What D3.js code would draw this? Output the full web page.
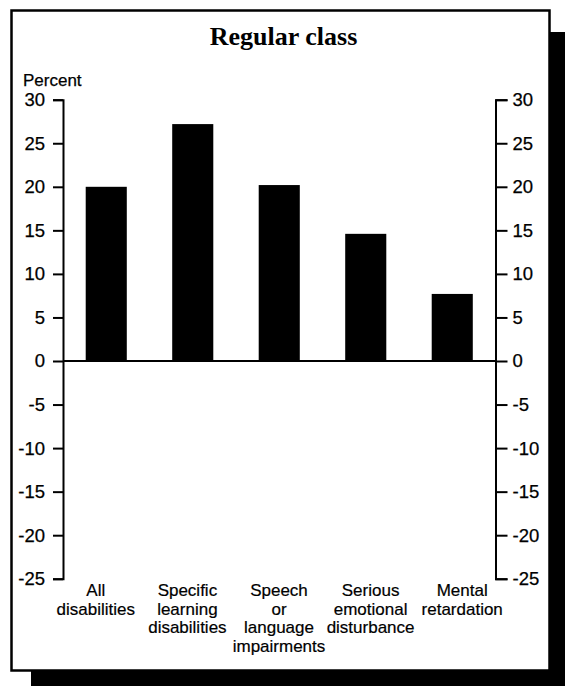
<!DOCTYPE html>
<html>
<head>
<meta charset="utf-8">
<script src="https://cdn.jsdelivr.net/npm/d3@7"></script>
<style>
  html, body { margin: 0; padding: 0; background: #fff; }
  svg { display: block; }
</style>
</head>
<body>
<script>
// Percentage change by disability category, regular class placement
const categories = [
  "All disabilities",
  "Specific learning disabilities",
  "Speech or language impairments",
  "Serious emotional disturbance",
  "Mental retardation"
];
const categoryLines = [
  ["All", "disabilities"],
  ["Specific", "learning", "disabilities"],
  ["Speech", "or", "language", "impairments"],
  ["Serious", "emotional", "disturbance"],
  ["Mental", "retardation"]
];
const values = [20.0, 27.2, 20.2, 14.6, 7.7];
const tickValues = [30, 25, 20, 15, 10, 5, 0, -5, -10, -15, -20, -25];
const titleText = "Regular class";
const axisTitle = "Percent";

const W = 565, H = 686;
const svg = d3.select("body").append("svg")
  .attr("width", W).attr("height", H);

// Drop shadow behind the framed panel
svg.append("rect")
  .attr("x", 31).attr("y", 32)
  .attr("width", 560).attr("height", 680)
  .attr("fill", "#000");

// Framed white panel
svg.append("rect")
  .attr("x", 11.5).attr("y", 10.5)
  .attr("width", 538).attr("height", 660)
  .attr("fill", "#fff")
  .attr("stroke", "#000")
  .attr("stroke-width", 2.5);

const left = 63, right = 495.5;
const y = d3.scaleLinear().domain([-25, 30]).range([578.75, 99.7]);
const x = d3.scaleBand().domain(categories)
  .range([left, right]).paddingInner(0.525).paddingOuter(0.2625);
const xLabel = d3.scaleBand().domain(categories).range([50, 508]);

const sans = "'Liberation Sans', Arial, Helvetica, sans-serif";

// Title
svg.append("text")
  .attr("x", 283.5).attr("y", 45)
  .attr("text-anchor", "middle")
  .attr("font-family", "'Liberation Serif', 'Times New Roman', serif")
  .attr("font-weight", "bold")
  .attr("font-size", 26)
  .text(titleText);

// Axis title
svg.append("text")
  .attr("x", 23).attr("y", 86)
  .attr("font-family", sans)
  .attr("font-size", 17)
  .attr("stroke", "#000").attr("stroke-width", 0.25)
  .text(axisTitle);

// Bars
svg.append("g").selectAll("rect")
  .data(values)
  .join("rect")
  .attr("x", (d, i) => x(categories[i]))
  .attr("width", x.bandwidth())
  .attr("y", d => y(Math.max(0, d)))
  .attr("height", d => Math.abs(y(d) - y(0)))
  .attr("fill", "#000");

// Zero line
svg.append("line")
  .attr("x1", left).attr("x2", right)
  .attr("y1", y(0)).attr("y2", y(0))
  .attr("stroke", "#000").attr("stroke-width", 2);

const fmt = d => String(d);

function styleAxis(g) {
  g.selectAll("path, line").attr("stroke", "#000").attr("stroke-width", 2);
  g.selectAll("text")
    .attr("fill", "#000")
    .attr("stroke", "#000").attr("stroke-width", 0.25)
    .attr("font-family", sans)
    .attr("font-size", 18.5);
}

svg.append("g")
  .attr("transform", `translate(${left},0)`)
  .call(d3.axisLeft(y).tickValues(tickValues).tickFormat(fmt)
    .tickSize(10).tickSizeOuter(10).tickPadding(8))
  .call(styleAxis);

svg.append("g")
  .attr("transform", `translate(${right},0)`)
  .call(d3.axisRight(y).tickValues(tickValues).tickFormat(fmt)
    .tickSize(12).tickSizeOuter(12).tickPadding(5))
  .call(styleAxis);

// Category labels, stacked lines centred under each column
const labels = svg.append("g")
  .attr("font-family", sans)
  .attr("font-size", 17)
  .attr("stroke", "#000").attr("stroke-width", 0.2)
  .attr("text-anchor", "middle");
categoryLines.forEach((lines, i) => {
  const cx = xLabel(categories[i]) + xLabel.bandwidth() / 2;
  const t = labels.append("text").attr("x", cx).attr("y", 596);
  lines.forEach((ln, j) => {
    t.append("tspan").attr("x", cx).attr("dy", j === 0 ? 0 : 18.6).text(ln);
  });
});
</script>
</body>
</html>
